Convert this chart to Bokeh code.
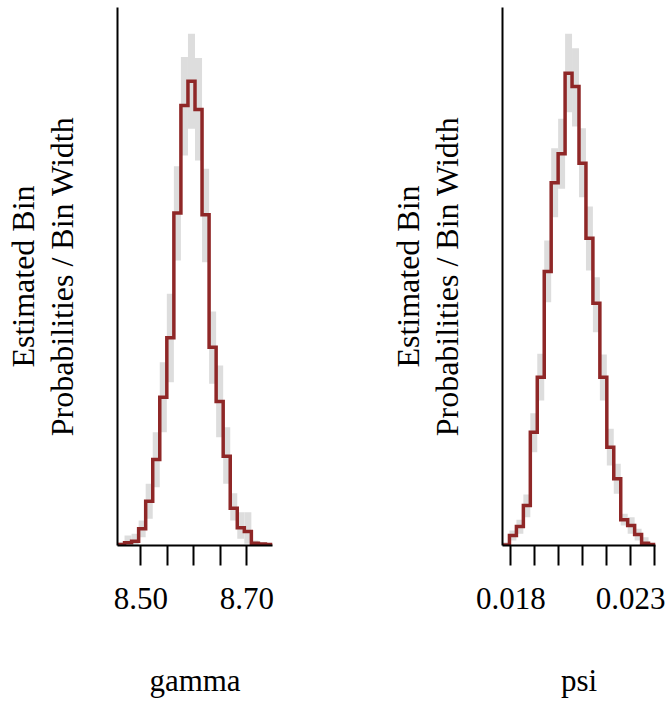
import numpy as np
from bokeh.plotting import figure
from bokeh.layouts import row
from bokeh.models import Range1d, FixedTicker, Title
from bokeh.embed import file_html
from bokeh.resources import INLINE

# Posterior histogram summaries: per-bin mean density with a quantile band
gamma_range = (8.4560, 8.7485)
gamma_mean = [0.025, 0.067, 0.107, 0.416, 1.104, 2.143, 3.695, 5.174, 8.279, 10.96, 11.56,
              10.86, 8.239, 4.940, 3.587, 2.225, 0.929, 0.441, 0.349, 0.057, 0.037, 0.025]
gamma_lower = [0.0, 0.0, 0.02, 0.207, 0.665, 1.452, 2.823, 4.068, 7.100, 9.716, 10.381,
               9.591, 7.058, 4.028, 2.698, 1.537, 0.623, 0.167, 0.042, 0.0, 0.0, 0.0]
gamma_upper = [0.075, 0.249, 0.291, 0.623, 1.537, 2.823, 4.566, 6.271, 9.449, 12.165, 12.748,
               12.145, 9.384, 5.830, 4.484, 2.947, 1.303, 0.830, 0.830, 0.125, 0.075, 0.05]
gamma_ticks = [8.50, 8.55, 8.60, 8.65, 8.70]
gamma_labels = {8.50: "8.50", 8.70: "8.70"}

psi_range = (0.017654, 0.024042)
psi_mean = [0.47, 9.5, 18.0, 37.9, 107.3, 159.4, 259.5, 343.6, 371.0, 447.4, 434.8,
            362.1, 291.1, 229.5, 159.4, 93.1, 63.2, 24.3, 18.9, 10.4, 2.2, 0.95]
psi_lower = [0.0, 4.7, 11.1, 26.8, 88.4, 137.3, 230.5, 311.0, 337.9, 410.4, 396.9,
             329.9, 260.5, 202.0, 137.3, 75.8, 49.0, 18.9, 11.1, 4.7, 0.0, 0.0]
psi_upper = [3.1, 14.2, 24.3, 48.3, 125.3, 181.6, 288.9, 376.3, 404.2, 484.7, 471.0,
             395.3, 321.1, 254.1, 180.9, 110.5, 77.4, 30.0, 26.8, 15.8, 7.9, 1.9]
psi_ticks = [0.018, 0.019, 0.020, 0.021, 0.022, 0.023, 0.024]
psi_labels = {0.018: "0.018", 0.023: "0.023"}

y_title_inner = "Probabilities / Bin Width"
y_title_outer = "Estimated Bin"

FONT = "Liberation Serif"
DARK_RED = "#8F2727"
BAND = "#DDDDDD"


def hist_panel(name, xr, mean, lower, upper, ymax, ticks, labels, left, right):
    p = figure(width=334, height=703, output_backend="svg", toolbar_location=None,
               x_range=Range1d(*xr), y_range=Range1d(0, ymax),
               min_border_left=left, min_border_right=right,
               min_border_top=7, min_border_bottom=158)
    p.outline_line_color = None
    p.xgrid.visible = False
    p.ygrid.visible = False

    # quantile band per bin, then the mean histogram as a step line
    edges = np.linspace(xr[0], xr[1], len(mean) + 1)
    p.quad(left=edges[:-1], right=edges[1:], bottom=lower, top=upper,
           fill_color=BAND, line_color=None)
    xs = np.repeat(edges, 2)[1:-1]
    ys = np.repeat(np.asarray(mean), 2)
    p.line(xs, ys, line_color=DARK_RED, line_width=3.5, line_join="miter")

    xa = p.xaxis[0]
    xa.ticker = FixedTicker(ticks=ticks, minor_ticks=[])
    xa.major_label_overrides = {t: labels.get(t, "") for t in ticks}
    xa.axis_line_width = 2
    xa.major_tick_line_width = 2
    xa.major_tick_in = 0
    xa.major_tick_out = 20
    xa.minor_tick_line_color = None
    xa.major_label_standoff = 22
    xa.major_label_text_font = FONT
    xa.major_label_text_font_size = "31px"
    xa.major_label_text_color = "black"
    xa.axis_label = name
    xa.axis_label_text_font = FONT
    xa.axis_label_text_font_size = "31px"
    xa.axis_label_text_font_style = "normal"
    xa.axis_label_text_color = "black"
    xa.axis_label_standoff = 51

    # y axis: bare line, inner title line as its label
    ya = p.yaxis[0]
    ya.ticker = FixedTicker(ticks=[], minor_ticks=[])
    ya.axis_line_width = 2
    ya.major_tick_line_color = None
    ya.minor_tick_line_color = None
    ya.major_tick_out = 0
    ya.major_tick_in = 0
    ya.axis_label = y_title_inner
    ya.axis_label_text_font = FONT
    ya.axis_label_text_font_size = "32px"
    ya.axis_label_text_font_style = "normal"
    ya.axis_label_text_color = "black"
    ya.axis_label_text_line_height = 0.8
    ya.axis_label_standoff = 38

    # outer title line beyond the axis label
    p.add_layout(Title(text=y_title_outer, align="center", standoff=0,
                       text_font=FONT, text_font_size="32px",
                       text_font_style="normal", text_color="black",
                       text_line_height=0.8), "left")
    return p


p1 = hist_panel("gamma", gamma_range, gamma_mean, gamma_lower, gamma_upper, 13.40,
                gamma_ticks, gamma_labels, left=117, right=62)
p2 = hist_panel("psi", psi_range, psi_mean, psi_lower, psi_upper, 509.6,
                psi_ticks, psi_labels, left=168, right=13)

layout = row(p1, p2)
open("out.html", "w").write(file_html(layout, INLINE))
